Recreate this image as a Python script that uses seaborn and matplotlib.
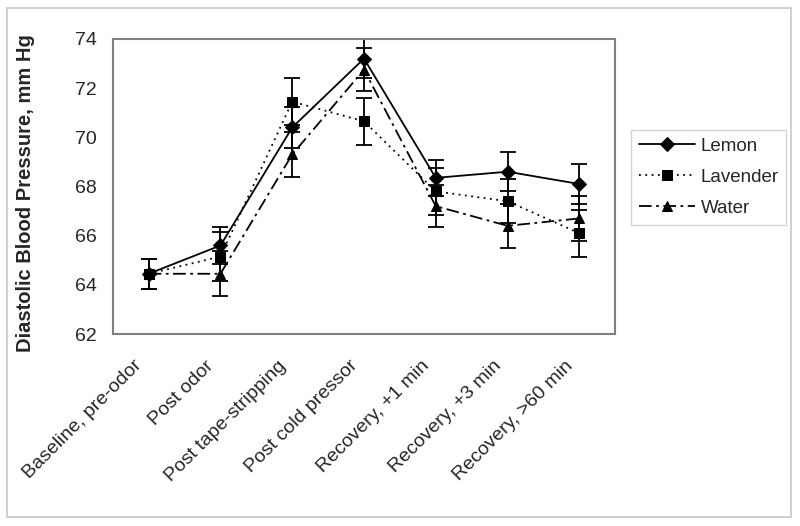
import numpy as np
import pandas as pd
import matplotlib
matplotlib.use("Agg")
import matplotlib.pyplot as plt
import matplotlib.transforms as mtransforms
import seaborn as sns
from matplotlib.patches import Rectangle

# -----------------------------------------------------
# Data
# -----------------------------------------------------
phases = ["Baseline, pre-odor", "Post odor", "Post tape-stripping",
          "Post cold pressor", "Recovery, +1 min", "Recovery, +3 min",
          "Recovery, >60 min"]
odors = ["Lemon", "Lavender", "Water"]

lemon = [64.45, 65.6, 70.4, 73.2, 68.35, 68.6, 68.1]
lavender = [64.45, 65.15, 71.45, 70.65, 67.8, 67.4, 66.1]
water = [64.45, 64.45, 69.3, 72.75, 67.2, 66.4, 66.7]

lemon_err = [0.6, 0.75, 0.85, 0.78, 0.72, 0.8, 0.8]
lavender_err = [0.6, 1.0, 0.95, 0.95, 0.95, 0.9, 0.95]
water_err = [0.6, 0.92, 0.9, 0.88, 0.84, 0.9, 0.92]

yticks = [62, 64, 66, 68, 70, 72, 74]

df = pd.DataFrame({
    "phase": phases * 3,
    "odor": np.repeat(odors, len(phases)),
    "bp": lemon + lavender + water,
    "err": lemon_err + lavender_err + water_err,
})

# -----------------------------------------------------
# Plot
# -----------------------------------------------------
sns.set_style("white")
plt.rcParams["font.family"] = ["Liberation Sans", "DejaVu Sans"]

fig = plt.figure(figsize=(8, 5.26), dpi=100)
ax = fig.add_axes([0.141, 0.365, 0.628, 0.561])

# light grey frame around the whole picture
fig.patches.append(Rectangle((7 / 800, 1 - 517 / 526), 784 / 800, 509 / 526,
                             transform=fig.transFigure, fill=False,
                             edgecolor="#c8c8c8", linewidth=1.2))

sns.lineplot(data=df, x="phase", y="bp", hue="odor", style="odor",
             palette=["black"] * 3,
             markers={"Lemon": "D", "Lavender": "s", "Water": "^"},
             dashes={"Lemon": "", "Lavender": (1, 2.5), "Water": (7, 2.5, 1.5, 2.5)},
             markersize=7, linewidth=1.3, markeredgecolor="black",
             sort=False, ax=ax)

x = np.arange(len(phases))
for name, grp in df.groupby("odor", sort=False):
    ax.errorbar(x, grp["bp"].values, yerr=grp["err"].values, fmt="none",
                ecolor="black", elinewidth=1.3, capsize=5.5, capthick=1.3, zorder=1)

ax.set_ylim(62, 74)
ax.set_xlim(-0.5, len(phases) - 0.5)
ax.set_yticks(yticks)
ax.set_yticklabels([str(t) for t in yticks], fontsize=14)
ax.set_xticks(x)
ax.set_xticklabels(phases, rotation=45, ha="right", va="center",
                   rotation_mode="anchor", fontsize=14)
ax.tick_params(axis="x", which="major", length=0, pad=21)
ax.tick_params(axis="y", length=0, pad=11.5)
ax.set_xticks(np.arange(len(phases) + 1) - 0.5, minor=True)
ax.tick_params(axis="x", which="minor", length=5, color="#c0c0c0", width=1)

# nudge the rotated labels a bit left, like the original
shift = mtransforms.ScaledTranslation(-9 / 100, 0, fig.dpi_scale_trans)
for lab in ax.get_xticklabels():
    lab.set_transform(lab.get_transform() + shift)

ax.set_xlabel("")
ax.set_ylabel("Diastolic Blood Pressure, mm Hg", fontsize=14.5, fontweight="bold")
ax.yaxis.set_label_coords(-0.155, 0.478)

for s in ax.spines.values():
    s.set_visible(True)
    s.set_color("#808080")
    s.set_linewidth(1.5)

handles, labels = ax.get_legend_handles_labels()
leg = ax.legend(handles, labels, loc="upper left", bbox_to_anchor=(1.032, 0.69),
                borderaxespad=0, fontsize=13.5, frameon=True, fancybox=False,
                edgecolor="#c8c8c8", handlelength=3.0, handletextpad=0.3,
                borderpad=0.4, labelspacing=0.74)
leg.get_frame().set_linewidth(1)

fig.savefig("out.png", dpi=100)
